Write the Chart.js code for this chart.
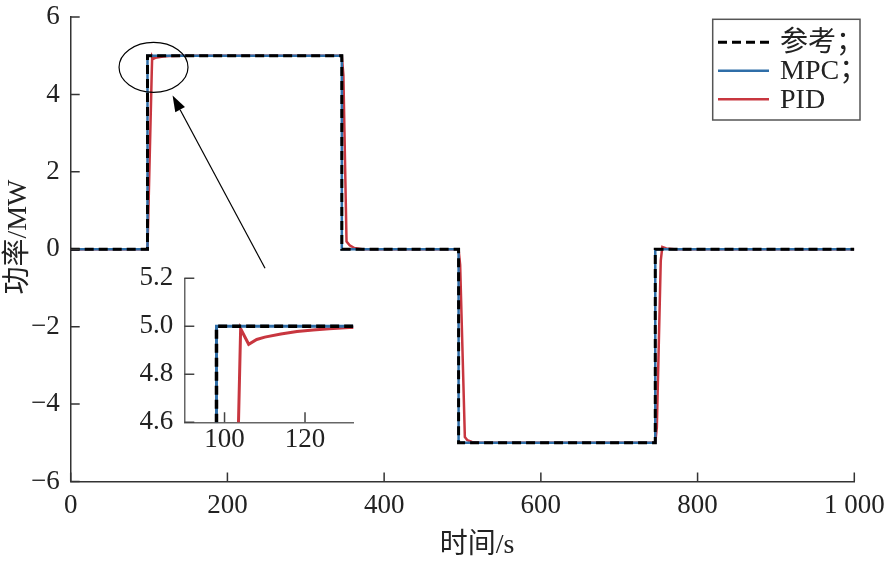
<!DOCTYPE html>
<html>
<head>
<meta charset="utf-8">
<script src="https://cdn.jsdelivr.net/npm/chart.js@4.4.0/dist/chart.umd.min.js"></script>
<style>
html, body { margin: 0; padding: 0; background: #fff; }
#wrap { position: relative; width: 886px; height: 583px; }
#main { position: absolute; left: 0; top: 0; }
#inset { position: absolute; left: 110px; top: 262px; }
</style>
</head>
<body>
<div id="wrap">
  <canvas id="main" width="886" height="583"></canvas>
  <canvas id="inset" width="260" height="195"></canvas>
</div>
<script>
// series names
var seriesNames = ['参考；', 'MPC；', 'PID'];

// reference (step set-point)
var refT = [0, 98, 98, 346, 346, 495, 495, 746, 746, 1000];
var refP = [0, 0, 5, 5, 0, 0, -5, -5, 0, 0];

// MPC follows the reference
var mpcT = [0, 98, 98, 346, 346, 495, 495, 746, 746, 1000];
var mpcP = [0, 0, 5, 5, 0, 0, -5, -5, 0, 0];

// PID response
var pidT = [0, 98, 103.4, 104, 106, 108, 110, 114, 118, 122, 126, 131, 140, 346, 348, 352, 356, 362, 372,
            495, 497, 503, 506, 512, 522, 746, 748, 753, 755, 760, 770, 1000];
var pidP = [0, 0, 4.55, 4.99, 4.925, 4.945, 4.955, 4.968, 4.978, 4.985, 4.99, 4.995, 4.998, 5, 4.5, 0.2, 0.1, 0.03, 0,
            0, -0.4, -4.85, -4.93, -4.98, -5, -5, -4.6, -0.3, 0.06, 0.02, 0, 0];

// main axis ticks
var xTicks = [0, 200, 400, 600, 800, 1000];
var xTickLabels = ['0', '200', '400', '600', '800', '1 000'];
var yTicks = [-6, -4, -2, 0, 2, 4, 6];
var yTickLabels = ['\u22126', '\u22124', '\u22122', '0', '2', '4', '6'];

// inset axis ticks
var inXTicks = [100, 120];
var inXTickLabels = ['100', '120'];
var inYTicks = [4.6, 4.8, 5.0, 5.2];
var inYTickLabels = ['4.6', '4.8', '5.0', '5.2'];

var serif = "'Liberation Serif', 'Noto Sans CJK SC', serif";
var blue = '#2f6ea8';
var red = '#c8363f';

Chart.defaults.font.family = serif;
Chart.defaults.color = '#222';

function pts(t, p) {
    return t.map(function (v, i) { return {x: v, y: p[i]}; });
}

function makeDatasets(w) {
    return [
        {label: seriesNames[0], data: pts(refT, refP), borderColor: '#000', borderWidth: w + 0.5, borderDash: [9, 5]},
        {label: seriesNames[1], data: pts(mpcT, mpcP), borderColor: blue, borderWidth: w},
        {label: seriesNames[2], data: pts(pidT, pidP), borderColor: red, borderWidth: w}
    ];
}

function noPad(ax) {
    ax.paddingTop = 0; ax.paddingBottom = 0; ax.paddingLeft = 0; ax.paddingRight = 0;
}

var inwardTicks = {
    id: 'inwardTicks',
    afterDraw: function (chart, args, opts) {
        var ctx = chart.ctx, a = chart.chartArea, x = chart.scales.x, y = chart.scales.y;
        ctx.save();
        ctx.strokeStyle = opts.color;
        ctx.lineWidth = opts.width;
        ctx.beginPath();
        x.ticks.forEach(function (t) {
            var px = x.getPixelForValue(t.value);
            ctx.moveTo(px, a.bottom);
            ctx.lineTo(px, a.bottom - opts.len);
        });
        y.ticks.forEach(function (t) {
            var py = y.getPixelForValue(t.value);
            ctx.moveTo(a.left, py);
            ctx.lineTo(a.left + opts.len, py);
        });
        ctx.stroke();
        ctx.restore();
    }
};

// legend box, axis titles, zoom ellipse + arrow
var extras = {
    id: 'extras',
    afterDraw: function (chart) {
        var ctx = chart.ctx, a = chart.chartArea, x = chart.scales.x, y = chart.scales.y;
        ctx.save();

        // axis titles
        ctx.fillStyle = '#222';
        ctx.font = '28px ' + serif;
        ctx.textAlign = 'center';
        ctx.textBaseline = 'middle';
        ctx.fillText('时间/s', 477, 546);
        ctx.save();
        ctx.translate(19, 237);
        ctx.rotate(-Math.PI / 2);
        ctx.fillText('功率/MW', 0, 0);
        ctx.restore();

        // ellipse around the rising edge
        var cx = x.getPixelForValue(105.7), cy = y.getPixelForValue(4.70);
        var rx = x.getPixelForValue(105.7 + 44) - cx, ry = cy - y.getPixelForValue(4.70 + 0.645);
        ctx.strokeStyle = '#000';
        ctx.lineWidth = 1.2;
        ctx.beginPath();
        ctx.ellipse(cx, cy, rx, ry, 0, 0, Math.PI * 2);
        ctx.stroke();

        // arrow from inset to ellipse
        var x1 = x.getPixelForValue(248), y1 = y.getPixelForValue(-0.49);
        var x2 = x.getPixelForValue(130), y2 = y.getPixelForValue(3.97);
        var ang = Math.atan2(y2 - y1, x2 - x1);
        var hl = 16, hw = 5.5;
        ctx.beginPath();
        ctx.moveTo(x1, y1);
        ctx.lineTo(x2 - hl * Math.cos(ang), y2 - hl * Math.sin(ang));
        ctx.stroke();
        ctx.fillStyle = '#000';
        ctx.beginPath();
        ctx.moveTo(x2, y2);
        ctx.lineTo(x2 - hl * Math.cos(ang) + hw * Math.sin(ang), y2 - hl * Math.sin(ang) - hw * Math.cos(ang));
        ctx.lineTo(x2 - hl * Math.cos(ang) - hw * Math.sin(ang), y2 - hl * Math.sin(ang) + hw * Math.cos(ang));
        ctx.closePath();
        ctx.fill();

        // legend
        var x0 = a.right - 141.6, y0 = a.top + 2.3, w = 147.3, h = 100.7;
        ctx.fillStyle = '#fff';
        ctx.fillRect(x0, y0, w, h);
        ctx.strokeStyle = '#555';
        ctx.lineWidth = 1.5;
        ctx.strokeRect(x0, y0, w, h);
        ctx.textAlign = 'left';
        ctx.font = '28px ' + serif;
        chart.data.datasets.forEach(function (ds, i) {
            var yy = y0 + 23 + i * 28.5;
            ctx.strokeStyle = ds.borderColor;
            ctx.lineWidth = ds.borderWidth;
            ctx.setLineDash(ds.borderDash || []);
            ctx.beginPath();
            ctx.moveTo(x0 + 5.3, yy);
            ctx.lineTo(x0 + 56.3, yy);
            ctx.stroke();
            ctx.setLineDash([]);
            ctx.fillStyle = '#222';
            ctx.fillText(ds.label, x0 + 67.3, yy + 1);
        });
        ctx.restore();
    }
};

var main = new Chart(document.getElementById('main'), {
    type: 'line',
    data: {datasets: makeDatasets(2.5)},
    options: {
        responsive: false,
        animation: false,
        elements: {point: {radius: 0}, line: {tension: 0}},
        layout: {padding: {top: 17, right: 31.7, left: 0, bottom: 0}},
        plugins: {
            legend: {display: false},
            tooltip: {enabled: false},
            inwardTicks: {len: 9, color: '#333', width: 1.5}
        },
        scales: {
            x: {
                type: 'linear', min: 0, max: 1000,
                afterBuildTicks: function (ax) { ax.ticks = xTicks.map(function (v) { return {value: v}; }); },
                afterFit: function (ax) { ax.height = 101.5; noPad(ax); },
                ticks: {
                    callback: function (v, i) { return xTickLabels[i]; },
                    padding: 8, maxRotation: 0, autoSkip: false, font: {size: 27}, color: '#222'
                },
                grid: {drawOnChartArea: false, drawTicks: false},
                border: {color: '#333', width: 1.5}
            },
            y: {
                type: 'linear', min: -6, max: 6,
                afterBuildTicks: function (ax) { ax.ticks = yTicks.map(function (v) { return {value: v}; }); },
                afterFit: function (ax) { ax.width = 70.7; noPad(ax); },
                ticks: {
                    callback: function (v, i) { return yTickLabels[i]; },
                    padding: 11, autoSkip: false, font: {size: 27}, color: '#222'
                },
                grid: {drawOnChartArea: false, drawTicks: false},
                border: {color: '#333', width: 1.5}
            }
        }
    },
    plugins: [inwardTicks, extras]
});

var inset = new Chart(document.getElementById('inset'), {
    type: 'line',
    data: {datasets: makeDatasets(3)},
    options: {
        responsive: false,
        animation: false,
        elements: {point: {radius: 0}, line: {tension: 0}},
        layout: {padding: {top: 16.3, right: 16.7, left: 0, bottom: 0}},
        plugins: {
            legend: {display: false},
            tooltip: {enabled: false},
            inwardTicks: {len: 10, color: '#444', width: 1.5}
        },
        scales: {
            x: {
                type: 'linear', min: 90, max: 132,
                afterBuildTicks: function (ax) { ax.ticks = inXTicks.map(function (v) { return {value: v}; }); },
                afterFit: function (ax) { ax.height = 34.7; noPad(ax); },
                ticks: {
                    callback: function (v, i) { return inXTickLabels[i]; },
                    padding: 1, maxRotation: 0, autoSkip: false, font: {size: 27}, color: '#222'
                },
                grid: {drawOnChartArea: false, drawTicks: false},
                border: {color: '#666', width: 1.5}
            },
            y: {
                type: 'linear', min: 4.6, max: 5.2,
                afterBuildTicks: function (ax) { ax.ticks = inYTicks.map(function (v) { return {value: v}; }); },
                afterFit: function (ax) { ax.width = 74.3; noPad(ax); },
                ticks: {
                    callback: function (v, i) { return inYTickLabels[i]; },
                    padding: 11, autoSkip: false, font: {size: 27}, color: '#222'
                },
                grid: {drawOnChartArea: false, drawTicks: false},
                border: {color: '#666', width: 1.5}
            }
        }
    },
    plugins: [inwardTicks]
});
</script>
</body>
</html>
